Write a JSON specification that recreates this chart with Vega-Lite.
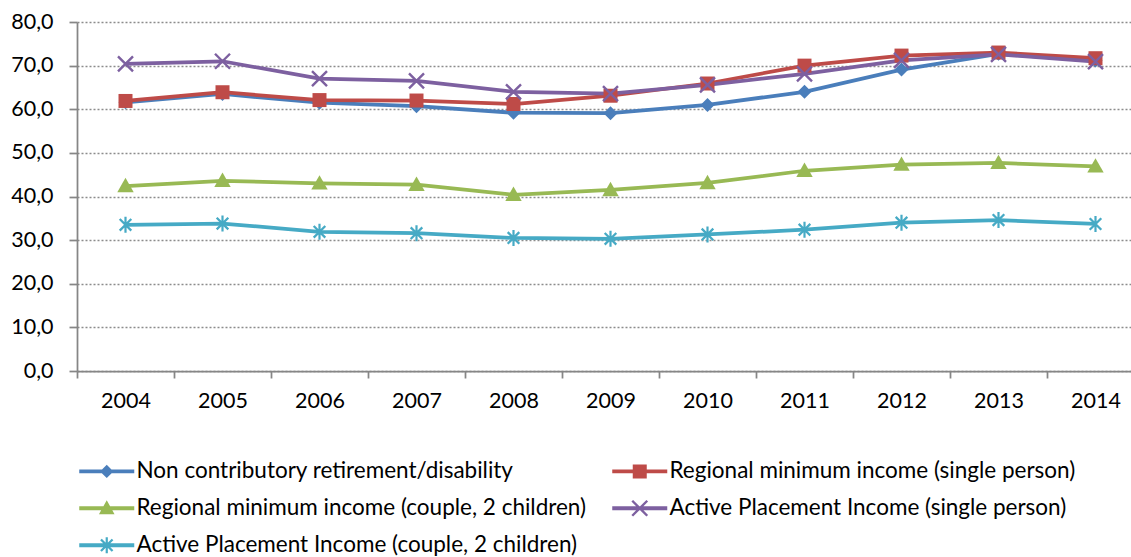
{
  "$schema": "https://vega.github.io/schema/vega-lite/v6.json",
  "width": 1054,
  "height": 349,
  "autosize": {"type": "none"},
  "padding": {"left": 77, "top": 22, "right": 0, "bottom": 186},
  "background": "#ffffff",
  "config": {
    "view": {"stroke": null},
    "font": "Lato",
    "axis": {"labelFont": "Lato", "labelFontSize": 21.5, "labelColor": "#000000"},
    "legend": {"labelFont": "Lato", "labelFontSize": 22.5, "labelColor": "#000000"}
  },
  "data": {
    "values": [
      {"year": 2004, "series": "Non contributory retirement/disability", "value": 61.6},
      {"year": 2005, "series": "Non contributory retirement/disability", "value": 63.5},
      {"year": 2006, "series": "Non contributory retirement/disability", "value": 61.5},
      {"year": 2007, "series": "Non contributory retirement/disability", "value": 60.7},
      {"year": 2008, "series": "Non contributory retirement/disability", "value": 59.2},
      {"year": 2009, "series": "Non contributory retirement/disability", "value": 59.1},
      {"year": 2010, "series": "Non contributory retirement/disability", "value": 61.0},
      {"year": 2011, "series": "Non contributory retirement/disability", "value": 64.0},
      {"year": 2012, "series": "Non contributory retirement/disability", "value": 69.1},
      {"year": 2013, "series": "Non contributory retirement/disability", "value": 72.7},
      {"year": 2014, "series": "Non contributory retirement/disability", "value": 71.2},
      {"year": 2004, "series": "Regional minimum income (single person)", "value": 61.9},
      {"year": 2005, "series": "Regional minimum income (single person)", "value": 63.9},
      {"year": 2006, "series": "Regional minimum income (single person)", "value": 62.1},
      {"year": 2007, "series": "Regional minimum income (single person)", "value": 62.0},
      {"year": 2008, "series": "Regional minimum income (single person)", "value": 61.2},
      {"year": 2009, "series": "Regional minimum income (single person)", "value": 63.1},
      {"year": 2010, "series": "Regional minimum income (single person)", "value": 65.9},
      {"year": 2011, "series": "Regional minimum income (single person)", "value": 70.0},
      {"year": 2012, "series": "Regional minimum income (single person)", "value": 72.3},
      {"year": 2013, "series": "Regional minimum income (single person)", "value": 73.0},
      {"year": 2014, "series": "Regional minimum income (single person)", "value": 71.7},
      {"year": 2004, "series": "Regional minimum income (couple, 2 children)", "value": 42.4},
      {"year": 2005, "series": "Regional minimum income (couple, 2 children)", "value": 43.6},
      {"year": 2006, "series": "Regional minimum income (couple, 2 children)", "value": 43.0},
      {"year": 2007, "series": "Regional minimum income (couple, 2 children)", "value": 42.7},
      {"year": 2008, "series": "Regional minimum income (couple, 2 children)", "value": 40.4},
      {"year": 2009, "series": "Regional minimum income (couple, 2 children)", "value": 41.5},
      {"year": 2010, "series": "Regional minimum income (couple, 2 children)", "value": 43.1},
      {"year": 2011, "series": "Regional minimum income (couple, 2 children)", "value": 45.9},
      {"year": 2012, "series": "Regional minimum income (couple, 2 children)", "value": 47.3},
      {"year": 2013, "series": "Regional minimum income (couple, 2 children)", "value": 47.7},
      {"year": 2014, "series": "Regional minimum income (couple, 2 children)", "value": 46.9},
      {"year": 2004, "series": "Active Placement Income (single person)", "value": 70.4},
      {"year": 2005, "series": "Active Placement Income (single person)", "value": 71.0},
      {"year": 2006, "series": "Active Placement Income (single person)", "value": 67.0},
      {"year": 2007, "series": "Active Placement Income (single person)", "value": 66.5},
      {"year": 2008, "series": "Active Placement Income (single person)", "value": 64.0},
      {"year": 2009, "series": "Active Placement Income (single person)", "value": 63.6},
      {"year": 2010, "series": "Active Placement Income (single person)", "value": 65.6},
      {"year": 2011, "series": "Active Placement Income (single person)", "value": 68.1},
      {"year": 2012, "series": "Active Placement Income (single person)", "value": 71.2},
      {"year": 2013, "series": "Active Placement Income (single person)", "value": 72.6},
      {"year": 2014, "series": "Active Placement Income (single person)", "value": 70.9},
      {"year": 2004, "series": "Active Placement Income (couple, 2 children)", "value": 33.5},
      {"year": 2005, "series": "Active Placement Income (couple, 2 children)", "value": 33.8},
      {"year": 2006, "series": "Active Placement Income (couple, 2 children)", "value": 31.9},
      {"year": 2007, "series": "Active Placement Income (couple, 2 children)", "value": 31.6},
      {"year": 2008, "series": "Active Placement Income (couple, 2 children)", "value": 30.5},
      {"year": 2009, "series": "Active Placement Income (couple, 2 children)", "value": 30.3},
      {"year": 2010, "series": "Active Placement Income (couple, 2 children)", "value": 31.3},
      {"year": 2011, "series": "Active Placement Income (couple, 2 children)", "value": 32.4},
      {"year": 2012, "series": "Active Placement Income (couple, 2 children)", "value": 34.0},
      {"year": 2013, "series": "Active Placement Income (couple, 2 children)", "value": 34.6},
      {"year": 2014, "series": "Active Placement Income (couple, 2 children)", "value": 33.7}
    ]
  },
  "encoding": {
    "x": {
      "field": "year",
      "type": "quantitative",
      "scale": {"domain": [2003.5, 2014.366], "nice": false, "zero": false},
      "axis": {
        "title": null,
        "values": [2003.5, 2004.5, 2005.5, 2006.5, 2007.5, 2008.5, 2009.5, 2010.5, 2011.5, 2012.5, 2013.5],
        "labelExpr": "format(datum.value + 0.5, 'd')",
        "labelOffset": 48.5,
        "labelFlush": false,
        "labelOverlap": false,
        "labelBound": false,
        "labelPadding": 12,
        "grid": false,
        "tickSize": 7,
        "tickColor": "#868686",
        "tickWidth": 1.75,
        "domainColor": "#868686",
        "domainWidth": 1.75
      }
    },
    "y": {
      "field": "value",
      "type": "quantitative",
      "scale": {"domain": [0, 80], "nice": false},
      "axis": {
        "title": null,
        "values": [0, 10, 20, 30, 40, 50, 60, 70, 80],
        "labelExpr": "replace(format(datum.value, '.1f'), '.', ',')",
        "labelFlush": false,
        "labelPadding": 16,
        "grid": true,
        "gridColor": "#8c8c8c",
        "gridDash": [2, 2],
        "gridWidth": 1.5,
        "tickSize": 8,
        "tickColor": "#868686",
        "tickWidth": 1.75,
        "domainColor": "#868686",
        "domainWidth": 1.75
      }
    }
  },
  "resolve": {"scale": {"color": "independent", "shape": "independent"}},
  "layer": [
    {
      "mark": {"type": "line", "strokeWidth": 3.75},
      "encoding": {
        "color": {
          "field": "series",
          "type": "nominal",
          "scale": {
            "domain": [
              "Non contributory retirement/disability",
              "Regional minimum income (single person)",
              "Regional minimum income (couple, 2 children)",
              "Active Placement Income (single person)",
              "Active Placement Income (couple, 2 children)"
            ],
            "range": ["#4a7ebb", "#be4b48", "#98b954", "#7d60a0", "#46aac5"]
          },
          "legend": null
        }
      }
    },
    {
      "mark": {"type": "point", "filled": true, "size": 400, "strokeWidth": 0, "opacity": 1},
      "encoding": {
        "color": {
          "field": "series",
          "type": "nominal",
          "scale": {
            "domain": [
              "Non contributory retirement/disability",
              "Regional minimum income (single person)",
              "Regional minimum income (couple, 2 children)",
              "Active Placement Income (single person)",
              "Active Placement Income (couple, 2 children)"
            ],
            "range": ["#4a7ebb", "#be4b48", "#98b954", "#7d60a0", "#46aac5"]
          },
          "legend": null
        },
        "shape": {
          "field": "series",
          "type": "nominal",
          "scale": {
            "domain": [
              "Non contributory retirement/disability",
              "Regional minimum income (single person)",
              "Regional minimum income (couple, 2 children)",
              "Active Placement Income (single person)",
              "Active Placement Income (couple, 2 children)"
            ],
            "range": [
              "M0,-0.7L0.7,0L0,0.7L-0.7,0Z",
              "M-0.7,-0.7H0.7V0.7H-0.7Z",
              "M0,-0.82L0.82,0.62L-0.82,0.62Z",
              "M-0.665,-0.835L0.835,0.665L0.665,0.835L-0.835,-0.665ZM-0.665,0.835L-0.835,0.665L0.665,-0.835L0.835,-0.665Z",
              "M-0.5,-0.66L0.66,0.5L0.5,0.66L-0.66,-0.5ZM-0.5,0.66L-0.66,0.5L0.5,-0.66L0.66,-0.5ZM-0.11,-0.8H0.11V0.8H-0.11Z"
            ]
          },
          "legend": null
        }
      }
    },
    {
      "transform": [{"filter": "datum.value < 0"}],
      "mark": {"type": "point", "filled": true, "size": 400, "strokeWidth": 0, "opacity": 1},
      "encoding": {
        "color": {
          "field": "series",
          "type": "nominal",
          "scale": {
            "domain": [
              "Non contributory retirement/disability",
              "Regional minimum income (single person)",
              "Regional minimum income (couple, 2 children)",
              "Active Placement Income (single person)",
              "Active Placement Income (couple, 2 children)"
            ],
            "range": ["#4a7ebb", "#be4b48", "#98b954", "#7d60a0", "#46aac5"]
          },
          "legend": {
            "title": null,
            "orient": "bottom",
            "direction": "horizontal",
            "columns": 2,
            "offset": 47.5,
            "padding": 0,
            "symbolSize": 400,
            "symbolStrokeWidth": 0,
            "symbolOffset": 18.5,
            "labelOffset": 18.5,
            "labelLimit": 700,
            "columnPadding": 23,
            "rowPadding": 14
          }
        },
        "shape": {
          "field": "series",
          "type": "nominal",
          "scale": {
            "domain": [
              "Non contributory retirement/disability",
              "Regional minimum income (single person)",
              "Regional minimum income (couple, 2 children)",
              "Active Placement Income (single person)",
              "Active Placement Income (couple, 2 children)"
            ],
            "range": [
              "M-2.75,-0.19H2.75V0.19H-2.75ZM0,-0.67L0.67,0L0,0.67L-0.67,0Z",
              "M-2.75,-0.19H2.75V0.19H-2.75ZM-0.7,-0.7H0.7V0.7H-0.7Z",
              "M-2.75,-0.19H2.75V0.19H-2.75ZM0,-0.8L0.78,0.6L-0.78,0.6Z",
              "M-2.75,-0.19H2.75V0.19H-2.75ZM-0.665,-0.835L0.835,0.665L0.665,0.835L-0.835,-0.665ZM-0.665,0.835L-0.835,0.665L0.665,-0.835L0.835,-0.665Z",
              "M-2.75,-0.19H2.75V0.19H-2.75ZM-0.5,-0.66L0.66,0.5L0.5,0.66L-0.66,-0.5ZM-0.5,0.66L-0.66,0.5L0.5,-0.66L0.66,-0.5ZM-0.11,-0.8H0.11V0.8H-0.11Z"
            ]
          },
          "legend": {
            "title": null,
            "orient": "bottom",
            "direction": "horizontal",
            "columns": 2,
            "offset": 47.5,
            "padding": 0,
            "symbolSize": 400,
            "symbolStrokeWidth": 0,
            "symbolOffset": 18.5,
            "labelOffset": 18.5,
            "labelLimit": 700,
            "columnPadding": 23,
            "rowPadding": 14
          }
        }
      }
    }
  ]
}
